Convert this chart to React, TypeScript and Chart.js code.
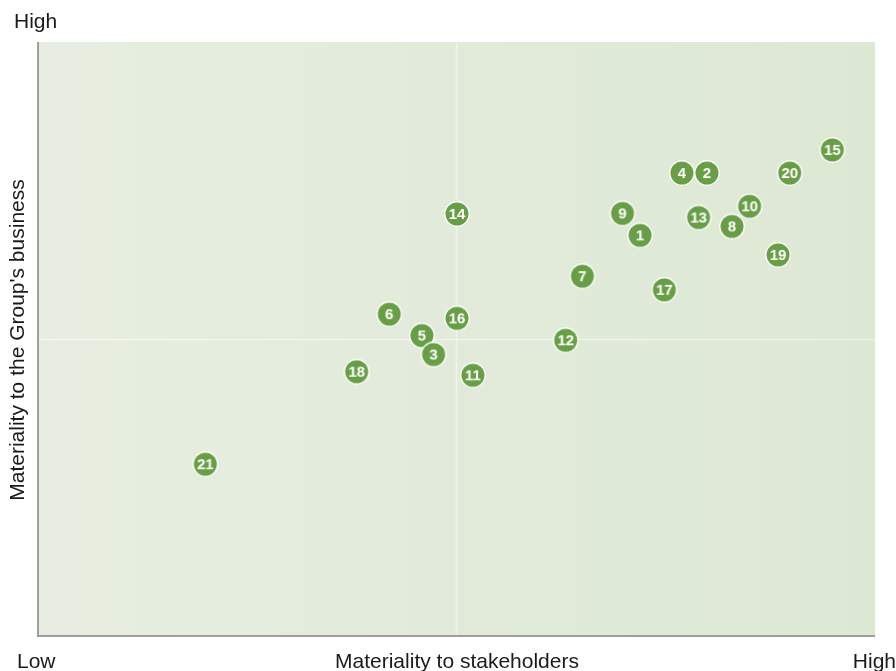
import React, { useEffect, useRef } from "react";
import { Chart, registerables } from "chart.js";

Chart.register(...registerables);

// Issues, listed in drawing order (lower numbers drawn last, on top)
const issueLabels = ["21", "20", "19", "18", "17", "16", "15", "14", "13", "12", "11", "10", "9", "8", "7", "6", "5", "4", "3", "2", "1"];
// Materiality to stakeholders (0 = Low, 10 = High)
const stakeholderValues = [1.99, 8.98, 8.84, 3.80, 7.48, 5.00, 9.49, 5.00, 7.89, 6.30, 5.19, 8.50, 6.98, 8.29, 6.50, 4.19, 4.58, 7.69, 4.72, 7.99, 7.19];
// Materiality to the Group's business (0 = Low, 10 = High)
const businessValues = [2.88, 7.79, 6.41, 4.44, 5.82, 5.34, 8.18, 7.10, 7.04, 4.97, 4.38, 7.23, 7.11, 6.89, 6.05, 5.41, 5.05, 7.79, 4.73, 7.79, 6.74];

const xTitle = "Materiality to stakeholders";
const yTitle = "Materiality to the Group's business";
const lowLabel = "Low";
const highLabel = "High";

const FONT = "'Liberation Sans', Arial, sans-serif";
const POINT_COLOR = "#689e45";

function makeMarker(label: string): HTMLCanvasElement {
  const size = 30;
  const c = document.createElement("canvas");
  c.width = size;
  c.height = size;
  const ctx = c.getContext("2d")!;
  const r = 12.2;
  ctx.beginPath();
  ctx.arc(size / 2, size / 2, r, 0, Math.PI * 2);
  ctx.fillStyle = POINT_COLOR;
  ctx.fill();
  ctx.lineWidth = 1.4;
  ctx.strokeStyle = "#ffffff";
  ctx.stroke();
  ctx.fillStyle = "#ffffff";
  ctx.font = `bold 15px ${FONT}`;
  ctx.textAlign = "center";
  ctx.textBaseline = "middle";
  ctx.fillText(label, size / 2, size / 2 + 1);
  return c;
}

const decorPlugin = {
  id: "decor",
  beforeDatasetsDraw(chart: any) {
    const { ctx, chartArea } = chart;
    const { left, right, top, bottom } = chartArea;
    ctx.save();
    const g = ctx.createLinearGradient(left, 0, right, 0);
    g.addColorStop(0, "#e7eee1");
    g.addColorStop(1, "#dde8d4");
    ctx.fillStyle = g;
    ctx.fillRect(left, top, right - left, bottom - top);
    const xs = chart.scales.x;
    const ys = chart.scales.y;
    const mx = Math.round(xs.getPixelForValue(5)) - 0.5;
    const my = Math.round(ys.getPixelForValue(5)) + 0.5;
    ctx.strokeStyle = "rgba(255,255,255,0.45)";
    ctx.lineWidth = 1.5;
    ctx.beginPath();
    ctx.moveTo(mx, top);
    ctx.lineTo(mx, bottom);
    ctx.moveTo(left, my);
    ctx.lineTo(right, my);
    ctx.stroke();
    ctx.strokeStyle = "#9d9f9c";
    ctx.lineWidth = 2;
    ctx.beginPath();
    ctx.moveTo(left - 1, top);
    ctx.lineTo(left - 1, bottom + 1);
    ctx.lineTo(right, bottom + 1);
    ctx.stroke();
    ctx.restore();
  },
  afterDatasetsDraw(chart: any) {
    const { ctx, chartArea } = chart;
    ctx.save();
    ctx.fillStyle = "#1a1a1a";
    ctx.font = `21px ${FONT}`;
    ctx.textAlign = "left";
    ctx.textBaseline = "middle";
    ctx.fillText(highLabel, 14, 22);
    ctx.fillText(lowLabel, 17, 662);
    ctx.textAlign = "right";
    ctx.fillText(highLabel, 896, 662);
    ctx.textAlign = "center";
    ctx.fillText(xTitle, (chartArea.left + chartArea.right) / 2, 662);
    ctx.translate(18, 340);
    ctx.rotate(-Math.PI / 2);
    ctx.fillText(yTitle, 0, 0);
    ctx.restore();
  },
};

export default function App() {
  const ref = useRef<HTMLCanvasElement | null>(null);
  useEffect(() => {
    if (!ref.current) return;
    const data = stakeholderValues.map((x, i) => ({ x, y: businessValues[i] }));
    const markers = issueLabels.map((l) => makeMarker(l));
    const chart = new Chart(ref.current, {
      type: "scatter",
      data: {
        datasets: [
          {
            data,
            pointStyle: markers as any,
            backgroundColor: POINT_COLOR,
            pointRadius: 13,
            pointHoverRadius: 13,
          },
        ],
      },
      options: {
        responsive: false,
        animation: false,
        events: [],
        layout: { padding: { left: 39, right: 21, top: 42, bottom: 36 } },
        plugins: { legend: { display: false }, tooltip: { enabled: false } },
        scales: {
          x: { type: "linear", min: 0, max: 10, display: false },
          y: { type: "linear", min: 0, max: 10, display: false },
        },
      },
      plugins: [decorPlugin],
    });
    return () => chart.destroy();
  }, []);
  return (
    <div style={{ position: "fixed", left: 0, top: 0, width: 896, height: 671, background: "#ffffff" }}>
      <canvas ref={ref} width={896} height={671} style={{ width: 896, height: 671, display: "block" }} />
    </div>
  );
}
